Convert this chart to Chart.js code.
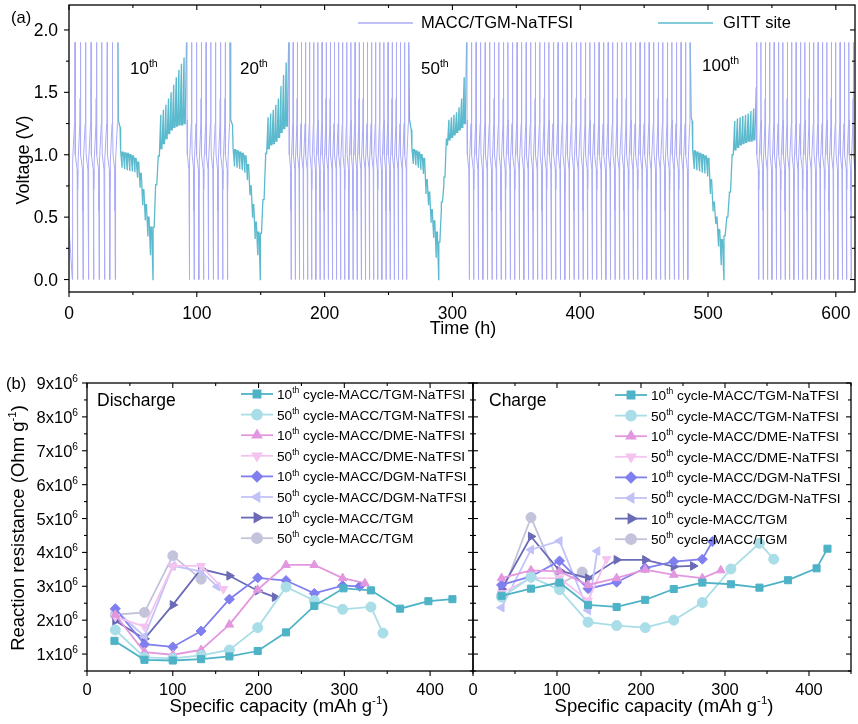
<!DOCTYPE html>
<html lang="en">
<head>
<meta charset="UTF-8">
<title>GITT voltage profile and reaction resistance</title>
<script src="https://cdn.jsdelivr.net/npm/chart.js@4/dist/chart.umd.min.js"></script>
<style>
  body { margin: 0; background: #fff; }
  #wrap { position: relative; width: 858px; height: 724px; overflow: hidden; background: #fff; }
  canvas { position: absolute; }
</style>
</head>
<body>
<div id="wrap">
  <canvas id="voltChart" width="858" height="345" style="left:0px;top:0px"></canvas>
  <canvas id="disChart" width="480" height="374" style="left:0px;top:350px"></canvas>
  <canvas id="chgChart" width="392" height="374" style="left:466px;top:350px"></canvas>
</div>
<script>
// ---------------- (a) voltage vs time ----------------
const timeTicks = [0, 100, 200, 300, 400, 500, 600];
const voltTicks = [0, 0.5, 1.0, 1.5, 2.0];

// galvanostatic cycling blocks between the GITT runs (h)
const blockStart    = [2.6, 92.3, 172.2, 311.4, 538.0];
const blockHalves   = [17, 18, 58, 98, 46];
const blockHalfTime = [2.1, 1.872, 1.614, 1.782, 1.72];
const blockFirst    = ['charge', 'discharge', 'discharge', 'discharge', 'discharge'];
const blockLeadT    = [0, null, null, null, 537.8];
const blockLeadV    = [0.42, null, null, null, 1.54];

// one half cycle: fraction of the half time -> voltage (V)
const dischargeFrac = [0, 0.04, 0.16, 0.80, 0.90, 1];
const dischargeVolt = [1.9, 1.28, 1.0, 0.88, 0.55, 0];
const chargeFrac    = [0, 0.06, 0.16, 0.80, 0.90, 1];
const chargeVolt    = [0, 0.72, 0.95, 1.25, 1.45, 1.9];

// GITT runs: drop after the last full charge, then pulse / rest levels
const gitt10LeadT = [38.3, 38.7, 40.0];
const gitt10LeadV = [1.9, 1.27, 1.22];
const gitt10Start = 40.4, gitt10Step = 2.02;
const gitt10Rest  = [1.03, 1.02, 1.015, 1.01, 1.0, 0.99, 0.97, 0.94, 0.85, 0.72, 0.60, 0.50, 0.42,
                     0.42, 0.76, 0.99, 1.05, 1.09, 1.13, 1.17, 1.20, 1.22, 1.23, 1.24, 1.24, 1.25];
const gitt10Pulse = [0.90, 0.89, 0.88, 0.875, 0.87, 0.86, 0.82, 0.74, 0.60, 0.48, 0.35, 0.20, 0.0,
                     0.76, 0.98, 1.32, 1.36, 1.40, 1.45, 1.50, 1.56, 1.62, 1.68, 1.73, 1.78, 1.9];

const gitt20LeadT = [126.0, 126.5, 127.9];
const gitt20LeadV = [1.9, 1.28, 1.24];
const gitt20Start = 128.4, gitt20Step = 2.02;
const gitt20Rest  = [1.05, 1.04, 1.03, 1.02, 1.01, 0.99, 0.92, 0.75, 0.60, 0.46, 0.38,
                     0.37, 0.64, 1.01, 1.05, 1.08, 1.09, 1.11, 1.14, 1.18, 1.21, 1.23];
const gitt20Pulse = [0.91, 0.90, 0.89, 0.88, 0.86, 0.80, 0.68, 0.50, 0.33, 0.20, 0.0,
                     0.64, 0.96, 1.30, 1.33, 1.36, 1.40, 1.45, 1.55, 1.64, 1.74, 1.9];

const gitt50LeadT = [265.8, 266.4, 267.8];
const gitt50LeadV = [1.9, 1.28, 1.20];
const gitt50Start = 268.3, gitt50Step = 1.99;
const gitt50Rest  = [1.05, 1.04, 1.03, 1.02, 1.00, 0.97, 0.80, 0.70, 0.56, 0.47, 0.38,
                     0.30, 0.62, 0.82, 1.08, 1.12, 1.14, 1.16, 1.18, 1.20, 1.22, 1.25];
const gitt50Pulse = [0.93, 0.92, 0.90, 0.88, 0.85, 0.69, 0.60, 0.46, 0.34, 0.18, 0.0,
                     0.55, 0.75, 1.13, 1.28, 1.30, 1.32, 1.34, 1.38, 1.45, 1.62, 1.9];

const gitt100LeadT = [486.0, 486.8, 487.6];
const gitt100LeadV = [1.9, 1.30, 1.27];
const gitt100Start = 488.0, gitt100Step = 2.115;
const gitt100Rest  = [1.04, 1.03, 1.02, 1.01, 1.00, 0.99, 0.97, 0.80, 0.62, 0.50, 0.40, 0.32,
                      0.35, 0.50, 0.70, 1.00, 1.04, 1.06, 1.08, 1.09, 1.10, 1.11, 1.11, 1.12];
const gitt100Pulse = [0.89, 0.88, 0.87, 0.86, 0.85, 0.83, 0.69, 0.55, 0.45, 0.27, 0.12, 0.0,
                      0.48, 0.68, 0.98, 1.27, 1.29, 1.30, 1.31, 1.32, 1.33, 1.35, 1.37, 1.54];

// ---------------- (b) reaction resistance (x10^6 Ohm g^-1) ----------------
const capTicks = [0, 100, 200, 300, 400];
const resTicks = [1, 2, 3, 4, 5, 6, 7, 8, 9];

const seriesNames = ['10^{th} cycle-MACC/TGM-NaTFSI', '50^{th} cycle-MACC/TGM-NaTFSI',
                     '10^{th} cycle-MACC/DME-NaTFSI', '50^{th} cycle-MACC/DME-NaTFSI',
                     '10^{th} cycle-MACC/DGM-NaTFSI', '50^{th} cycle-MACC/DGM-NaTFSI',
                     '10^{th} cycle-MACC/TGM', '50^{th} cycle-MACC/TGM'];

const dischargeCap = [
  [32, 67, 100, 133, 166, 199, 232, 265, 299, 331, 365, 398, 426],
  [33, 67, 100, 133, 166, 199, 232, 265, 298, 331, 345],
  [33, 67, 100, 133, 166, 199, 232, 265, 298, 324],
  [33, 67, 100, 133, 159],
  [33, 67, 100, 133, 166, 199, 232, 265, 298, 318],
  [33, 67, 100, 133, 152],
  [33, 67, 100, 133, 166, 199, 219],
  [33, 67, 100, 133]
];
const dischargeRes = [
  [1.39, 0.83, 0.81, 0.85, 0.93, 1.09, 1.64, 2.42, 2.94, 2.88, 2.34, 2.56, 2.62],
  [1.71, 0.90, 0.87, 0.96, 1.12, 1.78, 2.98, 2.58, 2.32, 2.39, 1.62],
  [2.16, 1.06, 0.98, 1.12, 1.87, 2.90, 3.63, 3.63, 3.24, 3.09],
  [2.10, 1.81, 3.60, 3.60, 2.92],
  [2.34, 1.29, 1.21, 1.68, 2.62, 3.25, 3.17, 2.79, 3.02, 3.00],
  [2.30, 1.52, 3.60, 3.44, 2.99],
  [1.98, 1.45, 2.45, 3.51, 3.31, 2.87, 2.68],
  [2.16, 2.23, 3.90, 3.21]
];

const chargeCap = [
  [34, 69, 103, 137, 171, 205, 239, 273, 307, 341, 375, 409, 422],
  [34, 69, 103, 137, 171, 205, 239, 273, 307, 341, 358],
  [34, 69, 103, 137, 171, 205, 239, 273, 295],
  [34, 69, 103, 137, 159],
  [34, 69, 103, 137, 171, 205, 239, 273, 285],
  [34, 69, 103, 137, 148],
  [34, 69, 103, 137, 171, 205, 239, 262],
  [34, 69, 103, 130]
];
const chargeRes = [
  [2.72, 2.93, 3.11, 2.45, 2.39, 2.60, 2.92, 3.11, 3.06, 2.96, 3.18, 3.53, 4.11],
  [2.68, 3.27, 2.90, 1.94, 1.84, 1.78, 2.00, 2.52, 3.51, 4.27, 3.80],
  [3.24, 3.47, 3.44, 3.04, 3.24, 3.49, 3.34, 3.24, 3.47],
  [2.80, 3.24, 3.24, 2.58, 3.80],
  [3.04, 3.29, 3.75, 2.93, 3.12, 3.54, 3.73, 3.80, 4.32],
  [2.37, 4.08, 4.34, 2.29, 4.04],
  [2.92, 4.47, 3.46, 3.24, 3.78, 3.78, 3.58, 3.60],
  [2.72, 5.03, 3.06, 3.42]
];

const seriesColors   = ['#4fb3c7', '#a9dde7', '#e297df', '#f4c3ef', '#7f7ff0', '#c2c2f9', '#6a6ab6', '#c3c3dc'];
const seriesMarkers  = ['rect', 'circle', 'triangle', 'triangle', 'rectRot', 'triangle', 'triangle', 'circle'];
const seriesRotation = [0, 0, 0, 180, 0, -90, 90, 0];

const lavender = '#acacf6';
const teal = '#5bbacd';
const FONT = "'Liberation Sans', Arial, Helvetica, sans-serif";

Chart.defaults.font.family = FONT;
Chart.defaults.color = '#000';

// text with ^{...} parts drawn raised and smaller
function drawRich(ctx, str, x, y, size, align) {
  const parts = str.split(/(\^\{[^}]*\})/).filter(Boolean)
    .map(p => p.startsWith('^{') ? { t: p.slice(2, -1), sup: true } : { t: p, sup: false });
  const supSize = size * 0.62;
  let w = 0;
  parts.forEach(p => {
    ctx.font = (p.sup ? supSize : size) + 'px ' + FONT;
    p.w = ctx.measureText(p.t).width;
    w += p.w;
  });
  let cx = align === 'center' ? x - w / 2 : align === 'right' ? x - w : x;
  ctx.textAlign = 'left';
  ctx.textBaseline = 'alphabetic';
  parts.forEach(p => {
    ctx.font = (p.sup ? supSize : size) + 'px ' + FONT;
    ctx.fillText(p.t, cx, p.sup ? y - size * 0.42 : y);
    cx += p.w;
  });
}

// build the cycling trace
function cyclingPoints() {
  const pts = [];
  for (let b = 0; b < blockStart.length; b++) {
    if (blockLeadT[b] !== null) pts.push({ x: blockLeadT[b], y: blockLeadV[b] });
    let t = blockStart[b];
    let kind = blockFirst[b];
    for (let h = 0; h < blockHalves[b]; h++) {
      const fr = kind === 'charge' ? chargeFrac : dischargeFrac;
      const vo = kind === 'charge' ? chargeVolt : dischargeVolt;
      for (let i = (h === 0 ? 0 : 1); i < fr.length; i++) {
        pts.push({ x: t + fr[i] * blockHalfTime[b], y: vo[i] });
      }
      t += blockHalfTime[b];
      kind = kind === 'charge' ? 'discharge' : 'charge';
    }
    pts.push({ x: t + 0.01, y: null });
  }
  return pts;
}

function gittPoints(leadT, leadV, start, step, rest, pulse) {
  const pts = leadT.map((t, i) => ({ x: t, y: leadV[i] }));
  for (let i = 0; i < pulse.length; i++) {
    const t = start + i * step;
    pts.push({ x: t, y: rest[i] });
    pts.push({ x: t + 0.55 * step, y: pulse[i] });
    if (i < pulse.length - 1) pts.push({ x: t + 0.58 * step, y: rest[i + 1] });
  }
  return pts;
}

const gittTrace = [].concat(
  gittPoints(gitt10LeadT, gitt10LeadV, gitt10Start, gitt10Step, gitt10Rest, gitt10Pulse), [{ x: 93, y: null }],
  gittPoints(gitt20LeadT, gitt20LeadV, gitt20Start, gitt20Step, gitt20Rest, gitt20Pulse), [{ x: 173, y: null }],
  gittPoints(gitt50LeadT, gitt50LeadV, gitt50Start, gitt50Step, gitt50Rest, gitt50Pulse), [{ x: 312, y: null }],
  gittPoints(gitt100LeadT, gitt100LeadV, gitt100Start, gitt100Step, gitt100Rest, gitt100Pulse)
);

// frame, major and minor ticks on all four sides
const frameTicks = {
  id: 'frameTicks',
  afterDatasetsDraw(chart, args, o) {
    const { ctx, chartArea: a, scales: { x, y } } = chart;
    ctx.save();
    ctx.strokeStyle = '#000';
    ctx.lineWidth = 1.3;
    ctx.strokeRect(a.left, a.top, a.right - a.left, a.bottom - a.top);
    ctx.lineWidth = 1.1;
    const line = (x0, y0, x1, y1) => { ctx.beginPath(); ctx.moveTo(x0, y0); ctx.lineTo(x1, y1); ctx.stroke(); };
    const isMajor = (v, m) => Math.abs(v / m - Math.round(v / m)) < 1e-6;
    for (let v = o.xFrom; v <= x.max + 1e-9; v += o.xMinor) {
      const px = x.getPixelForValue(v);
      const len = isMajor(v, o.xMajor) ? 5 : 3;
      line(px, a.bottom, px, a.bottom + len);
      line(px, a.top, px, a.top + len);
    }
    for (let v = o.yFrom; v <= y.max + 1e-9; v += o.yMinor) {
      const py = y.getPixelForValue(v);
      const len = isMajor(v, o.yMajor) ? 5 : 3;
      if (o.leftIn) line(a.left, py, a.left + len, py);
      else line(a.left, py, a.left - len, py);
      line(a.right, py, a.right - len, py);
    }
    ctx.restore();
  }
};

// panel texts: tick labels, titles, notes and the legend keys
const panelText = {
  id: 'panelText',
  afterDraw(chart, args, o) {
    const ctx = chart.ctx;
    const a = chart.chartArea, xs = chart.scales.x, ys = chart.scales.y;
    ctx.save();
    ctx.fillStyle = '#000';
    (o.xTicks || []).forEach(v => {
      drawRich(ctx, String(v), xs.getPixelForValue(v), a.bottom + o.xTickDrop, o.tickSize, 'center');
    });
    (o.yTicks || []).forEach(v => {
      drawRich(ctx, o.yFmt(v), a.left - o.yTickGap, ys.getPixelForValue(v) + 6, o.tickSize, 'right');
    });
    (o.texts || []).forEach(t => {
      if (t.rotate) {
        ctx.save();
        ctx.translate(t.x, t.y);
        ctx.rotate(-Math.PI / 2);
        drawRich(ctx, t.s, 0, 0, t.size, 'center');
        ctx.restore();
      } else {
        drawRich(ctx, t.s, t.x, t.y, t.size, t.align || 'left');
      }
    });
    (o.keys || []).forEach((k, i) => {
      const yy = k.y0 + i * k.dy;
      ctx.strokeStyle = k.color;
      ctx.lineWidth = k.width;
      ctx.beginPath(); ctx.moveTo(k.x0, yy); ctx.lineTo(k.x1, yy); ctx.stroke();
      if (k.marker) {
        ctx.fillStyle = k.color;
        Chart.helpers.drawPoint(ctx, { pointStyle: k.marker, rotation: k.rotation, radius: 5, borderWidth: 1 },
                                (k.x0 + k.x1) / 2, yy);
      }
      ctx.fillStyle = '#000';
      drawRich(ctx, k.label, k.tx, yy + 5, k.size, 'left');
    });
    ctx.restore();
  }
};

Chart.register(frameTicks, panelText);

const hiddenTicks = { display: false };
const noGrid = { display: false, drawTicks: false };

// ---------- chart (a) ----------
new Chart(document.getElementById('voltChart'), {
  type: 'line',
  data: {
    datasets: [
      { data: cyclingPoints(), borderColor: lavender, borderWidth: 1, pointRadius: 0, spanGaps: false },
      { data: gittTrace, borderColor: teal, borderWidth: 1.3, pointRadius: 0, spanGaps: false }
    ]
  },
  options: {
    responsive: false, animation: false, devicePixelRatio: 1,
    layout: { autoPadding: false, padding: { left: 0, right: 3, top: 5, bottom: 0 } },
    plugins: {
      legend: { display: false }, tooltip: { enabled: false },
      frameTicks: { xFrom: 0, xMajor: 100, xMinor: 50, yFrom: 0, yMajor: 0.5, yMinor: 0.25 },
      panelText: {
        xTicks: timeTicks, xTickDrop: 27, yTicks: voltTicks, yTickGap: 11, tickSize: 17.5,
        yFmt: v => v.toFixed(1),
        texts: [
          { s: '(a)', x: 11, y: 23, size: 16.5 },
          { s: 'Voltage (V)', x: 29, y: 160, size: 18, rotate: true },
          { s: 'Time (h)', x: 463, y: 334, size: 18, align: 'center' },
          { s: '10^{th}', x: 130, y: 74, size: 17 },
          { s: '20^{th}', x: 240, y: 74, size: 17 },
          { s: '50^{th}', x: 421, y: 74, size: 17 },
          { s: '100^{th}', x: 702, y: 71, size: 17 }
        ],
        keys: [
          { x0: 358, x1: 413, y0: 23, dy: 0, color: lavender, width: 1.5, tx: 421, label: 'MACC/TGM-NaTFSI', size: 16.5 },
          { x0: 658, x1: 713, y0: 23, dy: 0, color: teal, width: 1.5, tx: 723, label: 'GITT site', size: 16.5 }
        ]
      }
    },
    scales: {
      x: { type: 'linear', min: 0, max: 615, grid: noGrid, border: { display: false }, ticks: hiddenTicks,
           afterFit: s => { s.height = 53; } },
      y: { min: -0.1, max: 2.2, grid: noGrid, border: { display: false }, ticks: hiddenTicks,
           afterFit: s => { s.width = 69; } }
    }
  }
});

// ---------- chart (b): discharge and charge ----------
function resistanceChart(id, caps, vals, opts) {
  const datasets = caps.map((cap, i) => ({
    data: cap.map((c, j) => ({ x: c, y: vals[i][j] })),
    borderColor: seriesColors[i], backgroundColor: seriesColors[i],
    borderWidth: 1.8, pointStyle: seriesMarkers[i], pointRotation: seriesRotation[i],
    pointRadius: 5, pointBorderWidth: 1, pointBackgroundColor: seriesColors[i], pointBorderColor: seriesColors[i]
  }));
  const keys = seriesNames.map((name, i) => ({
    x0: opts.keyX0, x1: opts.keyX0 + 32, y0: opts.keyY0, dy: 20.6, color: seriesColors[i], width: 1.8,
    marker: seriesMarkers[i], rotation: seriesRotation[i], tx: opts.keyX0 + 36, label: name, size: 13.7
  }));
  return new Chart(document.getElementById(id), {
    type: 'line',
    data: { datasets },
    options: {
      responsive: false, animation: false, devicePixelRatio: 1,
      layout: { autoPadding: false, padding: { left: 0, right: 7, top: 33, bottom: 0 } },
      plugins: {
        legend: { display: false }, tooltip: { enabled: false },
        frameTicks: { xFrom: 0, xMajor: 100, xMinor: 50, yFrom: 0.5, yMajor: 1, yMinor: 0.5, leftIn: opts.leftIn },
        panelText: {
          xTicks: capTicks, xTickDrop: 24, yTicks: opts.yLabels ? resTicks : [], yTickGap: 9, tickSize: 16.5,
          yFmt: v => v + 'x10^{6}', texts: opts.texts, keys
        }
      },
      scales: {
        x: { type: 'linear', min: 0, max: 450, grid: noGrid, border: { display: false }, ticks: hiddenTicks,
             afterFit: s => { s.height = 53; } },
        y: { min: 0.5, max: 9, grid: noGrid, border: { display: false }, ticks: hiddenTicks,
             afterFit: s => { s.width = opts.yWidth; } }
      }
    }
  });
}

resistanceChart('disChart', dischargeCap, dischargeRes, {
  yWidth: 87, leftIn: false, yLabels: true, keyX0: 241, keyY0: 44,
  texts: [
    { s: '(b)', x: 6, y: 39, size: 16.5 },
    { s: 'Discharge', x: 97, y: 56, size: 17.5 },
    { s: 'Reaction resistance (Ohm g^{-1})', x: 24, y: 178, size: 18.5, rotate: true },
    { s: 'Specific capacity (mAh g^{-1})', x: 279, y: 362, size: 18.5, align: 'center' }
  ]
});

resistanceChart('chgChart', chargeCap, chargeRes, {
  yWidth: 7, leftIn: true, yLabels: false, keyX0: 149, keyY0: 45,
  texts: [
    { s: 'Charge', x: 23, y: 56, size: 17.5 },
    { s: 'Specific capacity (mAh g^{-1})', x: 198, y: 362, size: 18.5, align: 'center' }
  ]
});
</script>
</body>
</html>
